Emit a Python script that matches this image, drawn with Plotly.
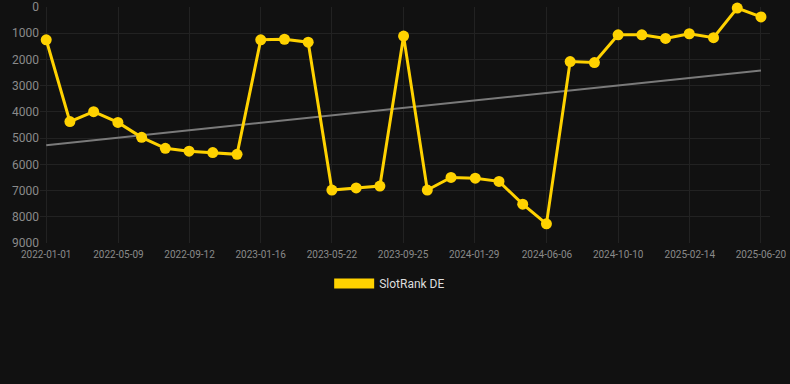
import numpy as np
import pandas as pd
import plotly.graph_objects as go

dates = ["2022-01-01", "2022-02-12", "2022-03-26", "2022-05-08", "2022-06-19", "2022-07-31",
         "2022-09-11", "2022-10-23", "2022-12-05", "2023-01-16", "2023-02-27", "2023-04-10",
         "2023-05-22", "2023-07-04", "2023-08-15", "2023-09-26", "2023-11-07", "2023-12-19",
         "2024-01-31", "2024-03-13", "2024-04-24", "2024-06-05", "2024-07-17", "2024-08-29",
         "2024-10-10", "2024-11-21", "2025-01-02", "2025-02-13", "2025-03-28", "2025-05-09",
         "2025-06-20"]
rank = [1250, 4370, 3990, 4400, 4970, 5390, 5500, 5550, 5620, 1250, 1230, 1340,
        6980, 6900, 6830, 1110, 6980, 6500, 6530, 6650, 7520, 8270, 2080, 2120,
        1060, 1060, 1200, 1020, 1170, 40, 380]
tick_labels = ["2022-01-01", "2022-05-09", "2022-09-12", "2023-01-16", "2023-05-22",
               "2023-09-25", "2024-01-29", "2024-06-06", "2024-10-10", "2025-02-14",
               "2025-06-20"]
y_ticks = [0, 1000, 2000, 3000, 4000, 5000, 6000, 7000, 8000, 9000]

dt = pd.to_datetime(dates)
days = (dt - dt[0]).days.values.astype(float)
coef = np.polyfit(days, np.array(rank, dtype=float), 1)
trend_y = np.polyval(coef, days[[0, -1]])

gold = "#FFD200"
fig = go.Figure()
fig.add_trace(go.Scatter(x=[dates[0], dates[-1]], y=trend_y, mode="lines",
                         line=dict(color="#7a7a7a", width=2), showlegend=False,
                         hoverinfo="skip"))
fig.add_trace(go.Scatter(x=dates, y=rank, mode="lines+markers",
                         line=dict(color=gold, width=3),
                         marker=dict(color=gold, size=11),
                         showlegend=False, cliponaxis=False))
fig.add_trace(go.Scatter(x=[None], y=[None], mode="lines", name="SlotRank DE",
                         line=dict(color=gold, width=11)))

fig.update_layout(
    width=790, height=384,
    paper_bgcolor="#111111", plot_bgcolor="#111111",
    margin=dict(l=40, r=20, t=7, b=141, autoexpand=False),
    font=dict(family="Roboto, Arial, sans-serif", color="#8a8a8a"),
    showlegend=True,
    legend=dict(orientation="h", x=0.479, xanchor="center",
                y=-0.11, yanchor="top",
                font=dict(size=12, color="#dddddd"), itemwidth=40,
                bgcolor="rgba(0,0,0,0)"),
    xaxis=dict(range=["2021-12-21", "2025-07-06"], tickvals=tick_labels,
               ticktext=tick_labels, showgrid=True, gridcolor="#222222",
               zeroline=False, showline=False, tickfont=dict(size=10, color="#8a8a8a"),
               ticks="", ticklabelstandoff=4, tickangle=0, automargin=False),
    yaxis=dict(range=[9000, 0], tickvals=y_ticks, showgrid=True, gridcolor="#222222",
               zeroline=False, showline=False, tickfont=dict(size=12, color="#8a8a8a"),
               ticks="", automargin=False, ticklabeloverflow="allow"),
)
fig.write_html("out.html", config={"displayModeBar": False},
               post_script="document.body.style.margin='0';document.body.style.background='#111111';")
